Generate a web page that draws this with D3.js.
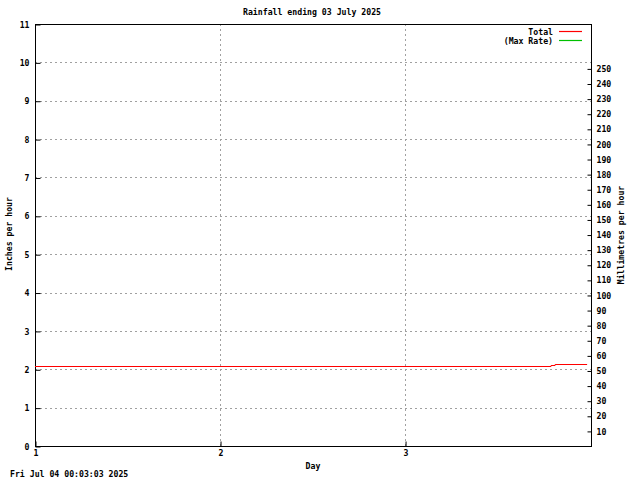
<!DOCTYPE html>
<html>
<head>
<meta charset="utf-8">
<script src="https://cdn.jsdelivr.net/npm/d3@7"></script>
<style>
  body { margin: 0; background: #fff; }
  svg { display: block; }
  text { font-family: "DejaVu Sans Mono", monospace; font-size: 8.2px; font-weight: bold; fill: #000; }
</style>
</head>
<body>
<div class="js-chart"></div>
<script>
// rainfall data, days since start vs inches per hour
var totalDays = [1.0, 3.789, 3.789, 3.811, 3.811, 3.984];
var totalInches = [2.08, 2.08, 2.10, 2.10, 2.13, 2.13];
var maxRateDays = [];
var maxRateInches = [];

var dayTicks = [1, 2, 3];
var inchTicks = [0, 1, 2, 3, 4, 5, 6, 7, 8, 9, 10, 11];
var mmTicks = [10, 20, 30, 40, 50, 60, 70, 80, 90, 100, 110, 120, 130, 140, 150,
    160, 170, 180, 190, 200, 210, 220, 230, 240, 250];

var width = 640, height = 480;
var plotLeft = 35, plotRight = 591, plotTop = 24, plotBottom = 446;

var svg = d3.select('.js-chart')
    .append('svg')
    .attr('width', width)
    .attr('height', height);

var x = d3.scaleLinear().domain([1, 4.005]).range([plotLeft, plotRight]);
var y = d3.scaleLinear().domain([0, 11]).range([plotBottom, plotTop]);
var yMm = d3.scaleLinear().domain([0, 11 * 25.4]).range([plotBottom, plotTop]);

// grid
svg.append('g')
    .selectAll('line')
    .data(inchTicks.filter(function(d) { return d > 0 && d < 11; }))
    .enter()
    .append('line')
        .attr('x1', plotLeft).attr('x2', plotRight)
        .attr('y1', function(d) { return Math.round(y(d)) + 0.5; })
        .attr('y2', function(d) { return Math.round(y(d)) + 0.5; })
        .attr('stroke', '#a0a0a0')
        .attr('stroke-dasharray', '2,3');

svg.append('g')
    .selectAll('line')
    .data(dayTicks.filter(function(d) { return d > 1; }))
    .enter()
    .append('line')
        .attr('x1', function(d) { return Math.round(x(d)) + 0.5; })
        .attr('x2', function(d) { return Math.round(x(d)) + 0.5; })
        .attr('y1', plotTop).attr('y2', plotBottom)
        .attr('stroke', '#a0a0a0')
        .attr('stroke-dasharray', '2,3');

function tidy(g) {
    g.select('.domain').remove();
    g.attr('font-size', null).attr('font-family', null);
    g.selectAll('line').attr('stroke', '#000');
}

// axes
svg.append('g')
    .attr('transform', 'translate(' + (plotLeft + 0.5) + ',0.5)')
    .call(d3.axisLeft(y).tickValues(inchTicks).tickSizeInner(-5).tickSizeOuter(0).tickPadding(6))
    .call(tidy);

svg.append('g')
    .attr('transform', 'translate(' + (plotRight + 0.5) + ',0.5)')
    .call(d3.axisRight(yMm).tickValues(mmTicks).tickSizeInner(-4).tickSizeOuter(0).tickPadding(5))
    .call(tidy);

svg.append('g')
    .attr('transform', 'translate(0.5,' + (plotBottom + 0.5) + ')')
    .call(d3.axisBottom(x).tickValues(dayTicks).tickFormat(d3.format('d')).tickSizeInner(-5).tickSizeOuter(0).tickPadding(4))
    .call(tidy);

// frame
svg.append('rect')
    .attr('x', plotLeft + 0.5)
    .attr('y', plotTop + 0.5)
    .attr('width', plotRight - plotLeft)
    .attr('height', plotBottom - plotTop)
    .attr('fill', 'none')
    .attr('stroke', '#000');

// series
var line = d3.line()
    .x(function(d) { return x(d[0]); })
    .y(function(d) { return Math.round(y(d[1])) + 0.5; });

svg.append('path')
    .datum(d3.zip(totalDays, totalInches))
    .attr('d', line)
    .attr('fill', 'none')
    .attr('stroke', '#ff0000');

svg.append('path')
    .datum(d3.zip(maxRateDays, maxRateInches))
    .attr('d', line)
    .attr('fill', 'none')
    .attr('stroke', '#00c000');

// legend
var legend = [['Total', '#ff0000'], ['(Max Rate)', '#00c000']];
var lg = svg.append('g')
    .selectAll('g')
    .data(legend)
    .enter()
    .append('g')
        .attr('transform', function(d, i) { return 'translate(0,' + (31 + i * 9) + ')'; });
lg.append('text')
    .attr('x', 553)
    .attr('y', 3.5)
    .attr('text-anchor', 'end')
    .text(function(d) { return d[0]; });
lg.append('line')
    .attr('x1', 559).attr('x2', 582)
    .attr('y1', 0.5).attr('y2', 0.5)
    .attr('stroke', function(d) { return d[1]; })
    .attr('stroke-width', 1.2);

// labels
svg.append('text')
    .attr('x', 312).attr('y', 15)
    .attr('text-anchor', 'middle')
    .text('Rainfall ending 03 July 2025');

svg.append('text')
    .attr('x', 313).attr('y', 469)
    .attr('text-anchor', 'middle')
    .text('Day');

svg.append('text')
    .attr('transform', 'translate(12,234) rotate(-90)')
    .attr('text-anchor', 'middle')
    .text('Inches per hour');

svg.append('text')
    .attr('transform', 'translate(624,235) rotate(-90)')
    .attr('text-anchor', 'middle')
    .text('Millimetres per hour');

svg.append('text')
    .attr('x', 10).attr('y', 477)
    .text('Fri Jul 04 00:03:03 2025');
</script>
</body>
</html>
